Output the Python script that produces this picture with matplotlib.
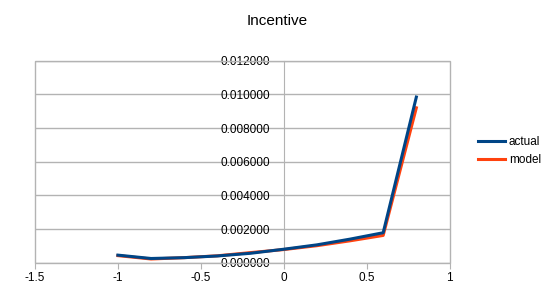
import matplotlib.pyplot as plt
from matplotlib.patches import Rectangle

# Data
x_vals = [-1.0, -0.8, -0.6, -0.4, -0.2, 0.0, 0.2, 0.4, 0.6, 0.8]
actual = [0.00045, 0.00025, 0.00030, 0.00040, 0.00056, 0.00080, 0.00106, 0.00140, 0.00178, 0.00984]
model = [0.00042, 0.00022, 0.00030, 0.00041, 0.00060, 0.00078, 0.00101, 0.00130, 0.00162, 0.00920]
x_ticks = [-1.5, -1, -0.5, 0, 0.5, 1]
y_ticks = [0.0, 0.002, 0.004, 0.006, 0.008, 0.010, 0.012]

plt.rcParams['font.family'] = ['Liberation Sans', 'DejaVu Sans']
grid_c = '#b3b3b3'

fig = plt.figure(figsize=(5.55, 3.05), dpi=100)
ax = fig.add_axes([35 / 555, 1 - 262.7 / 305, 414.5 / 555, 202 / 305])

ax.plot(x_vals, model, color='#ff420e', lw=2.2, label='model', zorder=3)
ax.plot(x_vals, actual, color='#004586', lw=2.2, label='actual', zorder=4)

ax.set_xlim(-1.5, 1)
ax.set_ylim(0, 0.012)
ax.set_xticks(x_ticks)
ax.set_xticklabels(['-1.5', '-1', '-0.5', '0', '0.5', '1'])
ax.set_yticks(y_ticks)
ax.set_yticklabels([f'{v:.6f}' for v in y_ticks])

ax.yaxis.grid(True, color=grid_c, lw=1)
ax.set_axisbelow(True)

for s in ['top', 'right', 'bottom']:
  ax.spines[s].set_visible(False)
ax.spines['left'].set_position(('data', 0))
ax.spines['left'].set_color(grid_c)
ax.add_patch(Rectangle((0, 0), 1, 1, transform=ax.transAxes, fill=False,
                       edgecolor=grid_c, lw=1, zorder=1, clip_on=False))

ax.tick_params(axis='y', length=0, pad=10, labelsize=8.5)
ax.tick_params(axis='x', length=4, color=grid_c, pad=3, labelsize=8.5)

fig.text(0.5, 1 - 21 / 305, 'Incentive', ha='center', va='center', fontsize=11)

handles, labels = ax.get_legend_handles_labels()
leg = fig.legend(handles[::-1], labels[::-1], loc='center left',
                 bbox_to_anchor=(478 / 555, 1 - 151 / 305), frameon=False,
                 fontsize=8.5, handlelength=2.3, handletextpad=0.3,
                 borderpad=0, borderaxespad=0, labelspacing=0.45)

fig.savefig('out.png', dpi=100)
